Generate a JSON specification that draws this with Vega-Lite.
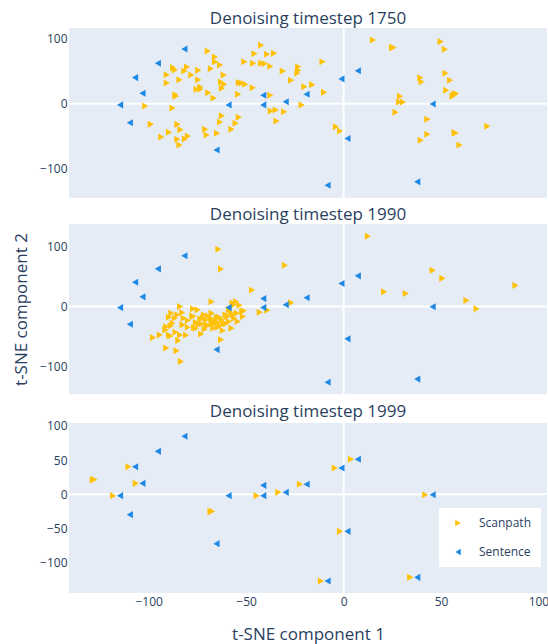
{
  "$schema": "https://vega.github.io/schema/vega-lite/v6.json",
  "background": "white",
  "padding": {"left": 12, "top": 10, "right": 0, "bottom": 4},
  "config": {
    "font": "Open Sans",
    "view": {"fill": "#E5ECF6", "stroke": null},
    "axis": {"gridColor": "white", "gridWidth": 1, "domain": false, "ticks": false, "labelColor": "#2a3f5f", "labelFontSize": 12, "labelFont": "Open Sans", "titleColor": "#2a3f5f", "titleFontWeight": "normal", "titleFontSize": 17, "titleFont": "Open Sans"},
    "title": {"fontSize": 17, "fontWeight": "normal", "color": "#2a3f5f", "anchor": "middle", "offset": -1, "font": "Open Sans"},
    "concat": {"spacing": 7}
  },
  "datasets": {
    "points": [
      {"panel":1,"type":"Scanpath","x":-101.8,"y":-3.6},{"panel":1,"type":"Scanpath","x":-98.9,"y":-32},{"panel":1,"type":"Scanpath","x":-93.5,"y":-51.5},{"panel":1,"type":"Scanpath","x":-90.7,"y":44.8},{"panel":1,"type":"Scanpath","x":-90.7,"y":32},{"panel":1,"type":"Scanpath","x":-89.6,"y":-44.3},{"panel":1,"type":"Scanpath","x":-87.8,"y":-6.7},{"panel":1,"type":"Scanpath","x":-87.5,"y":55.7},{"panel":1,"type":"Scanpath","x":-86.6,"y":52},{"panel":1,"type":"Scanpath","x":-86.2,"y":13.9},{"panel":1,"type":"Scanpath","x":-86.2,"y":11.3},{"panel":1,"type":"Scanpath","x":-85.3,"y":-32},{"panel":1,"type":"Scanpath","x":-85.3,"y":-55.2},{"panel":1,"type":"Scanpath","x":-84.2,"y":37.1},{"panel":1,"type":"Scanpath","x":-84.2,"y":-63.9},{"panel":1,"type":"Scanpath","x":-83.7,"y":-40.2},{"panel":1,"type":"Scanpath","x":-81.7,"y":50.5},{"panel":1,"type":"Scanpath","x":-81.4,"y":-54.6},{"panel":1,"type":"Scanpath","x":-80.3,"y":56.7},{"panel":1,"type":"Scanpath","x":-79.9,"y":-50},{"panel":1,"type":"Scanpath","x":-78.1,"y":44.3},{"panel":1,"type":"Scanpath","x":-75.4,"y":22.2},{"panel":1,"type":"Scanpath","x":-74.6,"y":51.5},{"panel":1,"type":"Scanpath","x":-74.6,"y":37.1},{"panel":1,"type":"Scanpath","x":-73.5,"y":25.8},{"panel":1,"type":"Scanpath","x":-73.5,"y":22.2},{"panel":1,"type":"Scanpath","x":-71,"y":-39.7},{"panel":1,"type":"Scanpath","x":-70.3,"y":-48.5},{"panel":1,"type":"Scanpath","x":-69.7,"y":81.4},{"panel":1,"type":"Scanpath","x":-69.4,"y":17},{"panel":1,"type":"Scanpath","x":-68.1,"y":54.1},{"panel":1,"type":"Scanpath","x":-66.7,"y":8.8},{"panel":1,"type":"Scanpath","x":-66,"y":72.2},{"panel":1,"type":"Scanpath","x":-66,"y":64.9},{"panel":1,"type":"Scanpath","x":-64.9,"y":-45.9},{"panel":1,"type":"Scanpath","x":-63.4,"y":59.8},{"panel":1,"type":"Scanpath","x":-63.4,"y":-28.4},{"panel":1,"type":"Scanpath","x":-62.9,"y":33.5},{"panel":1,"type":"Scanpath","x":-62.4,"y":23.7},{"panel":1,"type":"Scanpath","x":-62.4,"y":-18.6},{"panel":1,"type":"Scanpath","x":-61.5,"y":44.3},{"panel":1,"type":"Scanpath","x":-61.3,"y":29.9},{"panel":1,"type":"Scanpath","x":-57.5,"y":-39.7},{"panel":1,"type":"Scanpath","x":-55.4,"y":-30.4},{"panel":1,"type":"Scanpath","x":-54.1,"y":14.4},{"panel":1,"type":"Scanpath","x":-53.8,"y":-21.1},{"panel":1,"type":"Scanpath","x":-53.8,"y":32.5},{"panel":1,"type":"Scanpath","x":-52.3,"y":32},{"panel":1,"type":"Scanpath","x":-50.9,"y":64.9},{"panel":1,"type":"Scanpath","x":-50.5,"y":29.9},{"panel":1,"type":"Scanpath","x":-46.6,"y":24.7},{"panel":1,"type":"Scanpath","x":-46.4,"y":62.4},{"panel":1,"type":"Scanpath","x":-45.7,"y":77.3},{"panel":1,"type":"Scanpath","x":-42.3,"y":90.2},{"panel":1,"type":"Scanpath","x":-42.3,"y":62.4},{"panel":1,"type":"Scanpath","x":-40.5,"y":61.9},{"panel":1,"type":"Scanpath","x":-39.2,"y":76.3},{"panel":1,"type":"Scanpath","x":-37.6,"y":12.9},{"panel":1,"type":"Scanpath","x":-37.6,"y":57.7},{"panel":1,"type":"Scanpath","x":-37.3,"y":-11.3},{"panel":1,"type":"Scanpath","x":-35.7,"y":77.8},{"panel":1,"type":"Scanpath","x":-34.8,"y":-9.8},{"panel":1,"type":"Scanpath","x":-34.4,"y":-26.8},{"panel":1,"type":"Scanpath","x":-31.2,"y":50.5},{"panel":1,"type":"Scanpath","x":-30.5,"y":-12.4},{"panel":1,"type":"Scanpath","x":-26.9,"y":36.1},{"panel":1,"type":"Scanpath","x":-23.3,"y":57.2},{"panel":1,"type":"Scanpath","x":-23.3,"y":51.5},{"panel":1,"type":"Scanpath","x":-23.7,"y":46.9},{"panel":1,"type":"Scanpath","x":-21.5,"y":-2.1},{"panel":1,"type":"Scanpath","x":-20.1,"y":26.3},{"panel":1,"type":"Scanpath","x":-16.1,"y":29.4},{"panel":1,"type":"Scanpath","x":-10.8,"y":64.9},{"panel":1,"type":"Scanpath","x":-10,"y":17.5},{"panel":1,"type":"Scanpath","x":-3.9,"y":-35.6},{"panel":1,"type":"Scanpath","x":-1.8,"y":-42.3},{"panel":1,"type":"Scanpath","x":15.1,"y":98.5},{"panel":1,"type":"Scanpath","x":24.9,"y":86.6},{"panel":1,"type":"Scanpath","x":25.6,"y":86.9},{"panel":1,"type":"Scanpath","x":26.7,"y":-13.4},{"panel":1,"type":"Scanpath","x":29,"y":11.3},{"panel":1,"type":"Scanpath","x":28.5,"y":2.6},{"panel":1,"type":"Scanpath","x":30.5,"y":2.6},{"panel":1,"type":"Scanpath","x":39.4,"y":40.2},{"panel":1,"type":"Scanpath","x":40,"y":34},{"panel":1,"type":"Scanpath","x":39.6,"y":-56.7},{"panel":1,"type":"Scanpath","x":43,"y":-24.2},{"panel":1,"type":"Scanpath","x":43,"y":-47.4},{"panel":1,"type":"Scanpath","x":49.8,"y":95.9},{"panel":1,"type":"Scanpath","x":52,"y":84},{"panel":1,"type":"Scanpath","x":52.3,"y":46.9},{"panel":1,"type":"Scanpath","x":54.7,"y":36.1},{"panel":1,"type":"Scanpath","x":52.7,"y":20.6},{"panel":1,"type":"Scanpath","x":55.9,"y":11.3},{"panel":1,"type":"Scanpath","x":57.7,"y":15.5},{"panel":1,"type":"Scanpath","x":56.6,"y":14.4},{"panel":1,"type":"Scanpath","x":57,"y":-44.8},{"panel":1,"type":"Scanpath","x":57.5,"y":-45.5},{"panel":1,"type":"Scanpath","x":59.5,"y":-63.9},{"panel":1,"type":"Scanpath","x":73.8,"y":-35},
      {"panel":2,"type":"Scanpath","x":-64.2,"y":95.3},{"panel":2,"type":"Scanpath","x":-62.9,"y":62.4},{"panel":2,"type":"Scanpath","x":-30.1,"y":68.5},{"panel":2,"type":"Scanpath","x":12.5,"y":117},{"panel":2,"type":"Scanpath","x":-67.7,"y":7.8},{"panel":2,"type":"Scanpath","x":-47,"y":27.3},{"panel":2,"type":"Scanpath","x":-43,"y":-9.5},{"panel":2,"type":"Scanpath","x":-39.1,"y":-6.1},{"panel":2,"type":"Scanpath","x":-26.9,"y":6.1},{"panel":2,"type":"Scanpath","x":20.8,"y":24.5},{"panel":2,"type":"Scanpath","x":31.9,"y":21.7},{"panel":2,"type":"Scanpath","x":45.7,"y":60.2},{"panel":2,"type":"Scanpath","x":50.7,"y":46.8},{"panel":2,"type":"Scanpath","x":63.1,"y":10},{"panel":2,"type":"Scanpath","x":68.3,"y":-3.9},{"panel":2,"type":"Scanpath","x":88.2,"y":35.1},
      {"panel":2,"type":"Scanpath","x":-97.8,"y":-51.8},{"panel":2,"type":"Scanpath","x":-94.3,"y":-47.4},{"panel":2,"type":"Scanpath","x":-91,"y":-69.1},{"panel":2,"type":"Scanpath","x":-91.4,"y":-39},{"panel":2,"type":"Scanpath","x":-85.7,"y":-73.5},{"panel":2,"type":"Scanpath","x":-83.5,"y":-91.4},{"panel":2,"type":"Scanpath","x":-89.6,"y":-17.8},{"panel":2,"type":"Scanpath","x":-88.4,"y":-11.1},{"panel":2,"type":"Scanpath","x":-88.7,"y":-32.3},{"panel":2,"type":"Scanpath","x":-88.9,"y":-49},{"panel":2,"type":"Scanpath","x":-86.2,"y":-42.9},{"panel":2,"type":"Scanpath","x":-84.8,"y":-56.8},{"panel":2,"type":"Scanpath","x":-83.9,"y":-47.4},{"panel":2,"type":"Scanpath","x":-83.9,"y":0},{"panel":2,"type":"Scanpath","x":-82.8,"y":-10},{"panel":2,"type":"Scanpath","x":-82.1,"y":-19.5},{"panel":2,"type":"Scanpath","x":-80.8,"y":-47.4},{"panel":2,"type":"Scanpath","x":-79.9,"y":-23.4},{"panel":2,"type":"Scanpath","x":-77.2,"y":-3.9},{"panel":2,"type":"Scanpath","x":-77.2,"y":-16.7},{"panel":2,"type":"Scanpath","x":-76.7,"y":-35.1},{"panel":2,"type":"Scanpath","x":-74.9,"y":-5.6},{"panel":2,"type":"Scanpath","x":-75.8,"y":-26.7},{"panel":2,"type":"Scanpath","x":-73.1,"y":-45.7},{"panel":2,"type":"Scanpath","x":-72.8,"y":-29},{"panel":2,"type":"Scanpath","x":-71.7,"y":-13.9},{"panel":2,"type":"Scanpath","x":-70.6,"y":-22.3},{"panel":2,"type":"Scanpath","x":-69.5,"y":-31.2},{"panel":2,"type":"Scanpath","x":-68.1,"y":-19.5},{"panel":2,"type":"Scanpath","x":-66.8,"y":-36.2},{"panel":2,"type":"Scanpath","x":-65.9,"y":-27.9},{"panel":2,"type":"Scanpath","x":-65,"y":-17.8},{"panel":2,"type":"Scanpath","x":-63.3,"y":-31.8},{"panel":2,"type":"Scanpath","x":-62.9,"y":-55.2},{"panel":2,"type":"Scanpath","x":-62.4,"y":-22.3},{"panel":2,"type":"Scanpath","x":-60.6,"y":-29},{"panel":2,"type":"Scanpath","x":-59.7,"y":-16.7},{"panel":2,"type":"Scanpath","x":-58.8,"y":-25.1},{"panel":2,"type":"Scanpath","x":-57.9,"y":-9.5},{"panel":2,"type":"Scanpath","x":-57,"y":5.6},{"panel":2,"type":"Scanpath","x":-56.1,"y":-19.5},{"panel":2,"type":"Scanpath","x":-55.2,"y":8.4},{"panel":2,"type":"Scanpath","x":-54.8,"y":-11.1},{"panel":2,"type":"Scanpath","x":-53.4,"y":2.2},{"panel":2,"type":"Scanpath","x":-54.3,"y":-25.1},{"panel":2,"type":"Scanpath","x":-52,"y":-8.4},{"panel":2,"type":"Scanpath","x":-51.6,"y":-16.7},{"panel":2,"type":"Scanpath","x":-51.3,"y":-7.2},{"panel":2,"type":"Scanpath","x":-75.8,"y":-36.2},{"panel":2,"type":"Scanpath","x":-71.3,"y":-37.9},{"panel":2,"type":"Scanpath","x":-67.7,"y":-11.1},{"panel":2,"type":"Scanpath","x":-64.5,"y":-34.5},{"panel":2,"type":"Scanpath","x":-62,"y":-40.1},{"panel":2,"type":"Scanpath","x":-57.5,"y":-36.2},{"panel":2,"type":"Scanpath","x":-89.6,"y":-47.4},{"panel":2,"type":"Scanpath","x":-87.8,"y":-27.9},{"panel":2,"type":"Scanpath","x":-74.4,"y":-29.5},{"panel":2,"type":"Scanpath","x":-69.5,"y":-15.6},{"panel":2,"type":"Scanpath","x":-66.8,"y":-23.4},{"panel":2,"type":"Scanpath","x":-64.7,"y":-26.2},{"panel":2,"type":"Scanpath","x":-60.6,"y":-13.9},{"panel":2,"type":"Scanpath","x":-58.8,"y":-5.6},{"panel":2,"type":"Scanpath","x":-56.1,"y":2.8},{"panel":2,"type":"Scanpath","x":-57,"y":-13.9},{"panel":2,"type":"Scanpath","x":-67.7,"y":-29},{"panel":2,"type":"Scanpath","x":-72.2,"y":-19.5},{"panel":2,"type":"Scanpath","x":-77.6,"y":-15.6},{"panel":2,"type":"Scanpath","x":-63.8,"y":-17.8},{"panel":2,"type":"Scanpath","x":-61.5,"y":-26.7},{"panel":2,"type":"Scanpath","x":-73.5,"y":-20.6},{"panel":2,"type":"Scanpath","x":-70.4,"y":-32.3},{"panel":2,"type":"Scanpath","x":-82.6,"y":-30.6},{"panel":2,"type":"Scanpath","x":-79.9,"y":-34.5},{"panel":2,"type":"Scanpath","x":-91,"y":-33.4},{"panel":2,"type":"Scanpath","x":-85.3,"y":-13.9},{"panel":2,"type":"Scanpath","x":-86.6,"y":-19.5},
      {"panel":3,"type":"Scanpath","x":-128.7,"y":20.9},{"panel":3,"type":"Scanpath","x":-127.9,"y":21.6},{"panel":3,"type":"Scanpath","x":-110.4,"y":40.3},{"panel":3,"type":"Scanpath","x":-106.6,"y":16},{"panel":3,"type":"Scanpath","x":-118.3,"y":-1.9},{"panel":3,"type":"Scanpath","x":-68.3,"y":-25.2},{"panel":3,"type":"Scanpath","x":-67.5,"y":-24.6},{"panel":3,"type":"Scanpath","x":-44.6,"y":-1.9},{"panel":3,"type":"Scanpath","x":-33.5,"y":2.9},{"panel":3,"type":"Scanpath","x":-22.4,"y":14.6},{"panel":3,"type":"Scanpath","x":-4.5,"y":38.3},{"panel":3,"type":"Scanpath","x":3.8,"y":51},{"panel":3,"type":"Scanpath","x":-1.8,"y":-53.9},{"panel":3,"type":"Scanpath","x":-11.6,"y":-126.2},{"panel":3,"type":"Scanpath","x":34.2,"y":-120.9},{"panel":3,"type":"Scanpath","x":41.9,"y":-0.5},
      {"panel":1,"type":"Sentence","x":-81.7,"y":84.5},{"panel":1,"type":"Sentence","x":-95.3,"y":62.6},{"panel":1,"type":"Sentence","x":-107,"y":40.3},{"panel":1,"type":"Sentence","x":-103.2,"y":16},{"panel":1,"type":"Sentence","x":-114.7,"y":-1.9},{"panel":1,"type":"Sentence","x":-109.7,"y":-29.6},{"panel":1,"type":"Sentence","x":-65.2,"y":-71.8},{"panel":1,"type":"Sentence","x":-59,"y":-1.9},{"panel":1,"type":"Sentence","x":-41.2,"y":13.1},{"panel":1,"type":"Sentence","x":-41.2,"y":-1.9},{"panel":1,"type":"Sentence","x":-29.7,"y":2.9},{"panel":1,"type":"Sentence","x":-19,"y":14.6},{"panel":1,"type":"Sentence","x":-1.1,"y":38.3},{"panel":1,"type":"Sentence","x":7.3,"y":51},{"panel":1,"type":"Sentence","x":2,"y":-53.9},{"panel":1,"type":"Sentence","x":-8.2,"y":-126.2},{"panel":1,"type":"Sentence","x":37.8,"y":-120.9},{"panel":1,"type":"Sentence","x":45.7,"y":-0.5},
      {"panel":2,"type":"Sentence","x":-81.7,"y":84.5},{"panel":2,"type":"Sentence","x":-95.3,"y":62.6},{"panel":2,"type":"Sentence","x":-107,"y":40.3},{"panel":2,"type":"Sentence","x":-103.2,"y":16},{"panel":2,"type":"Sentence","x":-114.7,"y":-1.9},{"panel":2,"type":"Sentence","x":-109.7,"y":-29.6},{"panel":2,"type":"Sentence","x":-65.2,"y":-71.8},{"panel":2,"type":"Sentence","x":-59,"y":-1.9},{"panel":2,"type":"Sentence","x":-41.2,"y":13.1},{"panel":2,"type":"Sentence","x":-41.2,"y":-1.9},{"panel":2,"type":"Sentence","x":-29.7,"y":2.9},{"panel":2,"type":"Sentence","x":-19,"y":14.6},{"panel":2,"type":"Sentence","x":-1.1,"y":38.3},{"panel":2,"type":"Sentence","x":7.3,"y":51},{"panel":2,"type":"Sentence","x":2,"y":-53.9},{"panel":2,"type":"Sentence","x":-8.2,"y":-126.2},{"panel":2,"type":"Sentence","x":37.8,"y":-120.9},{"panel":2,"type":"Sentence","x":45.7,"y":-0.5},
      {"panel":3,"type":"Sentence","x":-81.7,"y":84.5},{"panel":3,"type":"Sentence","x":-95.3,"y":62.6},{"panel":3,"type":"Sentence","x":-107,"y":40.3},{"panel":3,"type":"Sentence","x":-103.2,"y":16},{"panel":3,"type":"Sentence","x":-114.7,"y":-1.9},{"panel":3,"type":"Sentence","x":-109.7,"y":-29.6},{"panel":3,"type":"Sentence","x":-65.2,"y":-71.8},{"panel":3,"type":"Sentence","x":-59,"y":-1.9},{"panel":3,"type":"Sentence","x":-41.2,"y":13.1},{"panel":3,"type":"Sentence","x":-41.2,"y":-1.9},{"panel":3,"type":"Sentence","x":-29.7,"y":2.9},{"panel":3,"type":"Sentence","x":-19,"y":14.6},{"panel":3,"type":"Sentence","x":-1.1,"y":38.3},{"panel":3,"type":"Sentence","x":7.3,"y":51},{"panel":3,"type":"Sentence","x":2,"y":-53.9},{"panel":3,"type":"Sentence","x":-8.2,"y":-126.2},{"panel":3,"type":"Sentence","x":37.8,"y":-120.9},{"panel":3,"type":"Sentence","x":45.7,"y":-0.5}
    ]
  },
  "vconcat": [
    {
      "title": {"text": "Denoising timestep 1750"},
      "width": 478, "height": 170,
      "layer": [
        {"data": {"values": [{}]}, "mark": {"type": "rule", "color": "white", "strokeWidth": 2}, "encoding": {"y": {"datum": 0, "type": "quantitative"}}},
        {"data": {"values": [{}]}, "mark": {"type": "rule", "color": "white", "strokeWidth": 2}, "encoding": {"x": {"datum": 0, "type": "quantitative"}}},
        {
          "data": {"name": "points"},
          "transform": [{"filter": "datum.panel == 1"}],
          "mark": {"type": "point", "filled": true, "size": 50, "opacity": 1},
          "encoding": {
            "x": {"field": "x", "type": "quantitative", "scale": {"domain": [-140.9, 104.4], "nice": false, "zero": false}, "axis": {"values": [-100, -50, 0, 50, 100], "labels": false, "title": null}},
            "y": {"field": "y", "type": "quantitative", "scale": {"domain": [-145.9, 117], "nice": false, "zero": false}, "axis": {"values": [-100, 0, 100], "title": null, "labelPadding": 2}},
            "color": {"field": "type", "type": "nominal", "scale": {"domain": ["Scanpath", "Sentence"], "range": ["#FFC107", "#1E88E5"]}, "legend": null},
            "shape": {"field": "type", "type": "nominal", "scale": {"domain": ["Scanpath", "Sentence"], "range": ["triangle-right", "triangle-left"]}, "legend": null}
          }
        }
      ]
    },
    {
      "title": {"text": "Denoising timestep 1990"},
      "width": 478, "height": 170,
      "layer": [
        {"data": {"values": [{}]}, "mark": {"type": "rule", "color": "white", "strokeWidth": 2}, "encoding": {"y": {"datum": 0, "type": "quantitative"}}},
        {"data": {"values": [{}]}, "mark": {"type": "rule", "color": "white", "strokeWidth": 2}, "encoding": {"x": {"datum": 0, "type": "quantitative"}}},
        {
          "data": {"name": "points"},
          "transform": [{"filter": "datum.panel == 2"}],
          "mark": {"type": "point", "filled": true, "size": 50, "opacity": 1},
          "encoding": {
            "x": {"field": "x", "type": "quantitative", "scale": {"domain": [-140.9, 104.4], "nice": false, "zero": false}, "axis": {"values": [-100, -50, 0, 50, 100], "labels": false, "title": null}},
            "y": {"field": "y", "type": "quantitative", "scale": {"domain": [-145.7, 137.3], "nice": false, "zero": false}, "axis": {"values": [-100, 0, 100], "title": "t-SNE component 2", "labelPadding": 2, "titlePadding": 9}},
            "color": {"field": "type", "type": "nominal", "scale": {"domain": ["Scanpath", "Sentence"], "range": ["#FFC107", "#1E88E5"]}, "legend": null},
            "shape": {"field": "type", "type": "nominal", "scale": {"domain": ["Scanpath", "Sentence"], "range": ["triangle-right", "triangle-left"]}, "legend": null}
          }
        }
      ]
    },
    {
      "title": {"text": "Denoising timestep 1999"},
      "width": 478, "height": 170,
      "layer": [
        {"data": {"values": [{}]}, "mark": {"type": "rule", "color": "white", "strokeWidth": 2}, "encoding": {"y": {"datum": 0, "type": "quantitative"}}},
        {"data": {"values": [{}]}, "mark": {"type": "rule", "color": "white", "strokeWidth": 2}, "encoding": {"x": {"datum": 0, "type": "quantitative"}}},
        {
          "data": {"name": "points"},
          "transform": [{"filter": "datum.panel == 3"}],
          "mark": {"type": "point", "filled": true, "size": 50, "opacity": 1},
          "encoding": {
            "x": {"field": "x", "type": "quantitative", "scale": {"domain": [-140.9, 104.4], "nice": false, "zero": false}, "axis": {"values": [-100, -50, 0, 50, 100], "title": "t-SNE component 1", "labelPadding": 3, "titlePadding": 19}},
            "y": {"field": "y", "type": "quantitative", "scale": {"domain": [-143.7, 103.9], "nice": false, "zero": false}, "axis": {"values": [-100, -50, 0, 50, 100], "title": null, "labelPadding": 2}},
            "color": {"field": "type", "type": "nominal", "scale": {"domain": ["Scanpath", "Sentence"], "range": ["#FFC107", "#1E88E5"]}, "legend": {"orient": "none", "legendX": 370, "legendY": 85, "title": null, "fillColor": "white", "padding": 9, "rowPadding": 17, "symbolOffset": 4, "labelOffset": 15, "labelFontSize": 12, "labelColor": "#2a3f5f", "labelFont": "Open Sans", "symbolSize": 40, "symbolStrokeWidth": 0}},
            "shape": {"field": "type", "type": "nominal", "scale": {"domain": ["Scanpath", "Sentence"], "range": ["triangle-right", "triangle-left"]}, "legend": {"orient": "none", "legendX": 370, "legendY": 85, "title": null, "fillColor": "white", "padding": 9, "rowPadding": 17, "symbolOffset": 4, "labelOffset": 15, "labelFontSize": 12, "labelColor": "#2a3f5f", "labelFont": "Open Sans", "symbolSize": 40, "symbolStrokeWidth": 0}}
          }
        }
      ]
    }
  ],
  "resolve": {"legend": {"color": "independent", "shape": "independent"}}
}
